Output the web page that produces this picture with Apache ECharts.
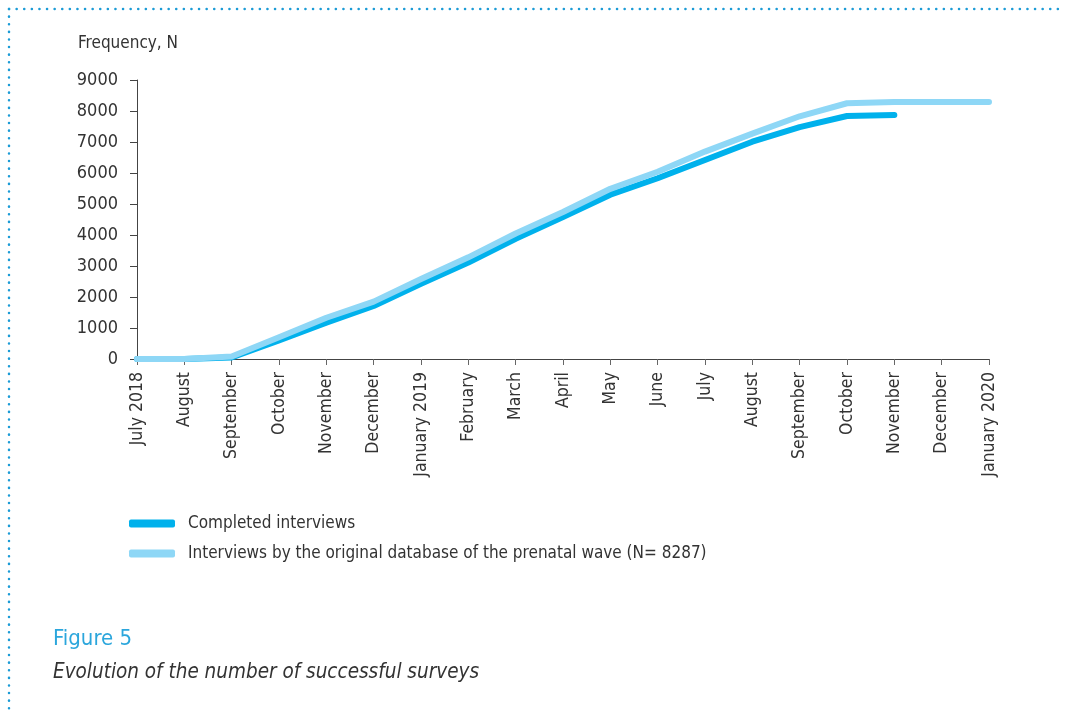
<!DOCTYPE html>
<html>
<head>
<meta charset="utf-8">
<script src="https://cdn.jsdelivr.net/npm/echarts@6/dist/echarts.min.js"></script>
<style>
html,body{margin:0;padding:0;background:#fff;}
#c{width:1065px;height:713px;}
</style>
</head>
<body>
<div id="c"></div>
<script>
const categories = ["July 2018","August","September","October","November","December","January 2019","February","March","April","May","June","July","August","September","October","November","December","January 2020"];
const completed = [0,0,50,600,1170,1710,2430,3110,3880,4580,5300,5830,6420,7010,7480,7840,7870];
const original = [0,0,80,700,1330,1850,2580,3280,4050,4740,5490,6040,6690,7270,7830,8250,8287,8287,8287];
const yTicks = {min:0,max:9000,interval:1000};
const seriesNames = ["Completed interviews","Interviews by the original database of the prenatal wave (N= 8287)"];

const font = "'Liberation Sans Narrow','DejaVu Sans Condensed','Roboto',sans-serif";
const chart = echarts.init(document.getElementById('c'));
chart.setOption({
  animation:false,
  backgroundColor:'#fff',
  grid:{left:137,right:76,top:80,bottom:354,containLabel:false},
  title:[
    {text:'Frequency, N',left:73,top:30,textStyle:{fontFamily:font,fontSize:17,fontWeight:'normal',color:'#333'}},
    {text:'Figure 5',left:48,top:623,textStyle:{fontFamily:font,fontSize:22,fontWeight:'normal',color:'#2ba6dc'}},
    {text:'Evolution of the number of successful surveys',left:48,top:658,textStyle:{fontFamily:font,fontSize:20.5,fontWeight:'normal',fontStyle:'italic',color:'#333'}}
  ],
  legend:{
    orient:'vertical',left:124,top:510,itemWidth:46,itemHeight:8,itemGap:13,icon:'roundRect',
    textStyle:{fontFamily:font,fontSize:17,color:'#333',padding:[0,0,0,8]},
    data:seriesNames
  },
  xAxis:{
    type:'category',data:categories,boundaryGap:false,
    axisLine:{lineStyle:{color:'#444',width:1}},
    axisTick:{show:true,length:6,lineStyle:{color:'#666'},alignWithLabel:true},
    axisLabel:{rotate:90,interval:0,margin:13,fontFamily:font,fontSize:17.5,color:'#333'},
    splitLine:{show:false}
  },
  yAxis:{
    type:'value',min:yTicks.min,max:yTicks.max,interval:yTicks.interval,
    axisLine:{show:true,lineStyle:{color:'#444',width:1}},
    axisTick:{show:true,length:7,lineStyle:{color:'#444'}},
    axisLabel:{margin:19,fontFamily:font,fontSize:18,color:'#333',formatter:v=>String(v)},
    splitLine:{show:false}
  },
  series:[
    {name:seriesNames[0],type:'line',data:completed,symbol:'none',z:2,
     lineStyle:{color:'#00b1ec',width:6,cap:'round',join:'round'},itemStyle:{color:'#00b1ec'}},
    {name:seriesNames[1],type:'line',data:original,symbol:'none',z:3,
     lineStyle:{color:'#8ed7f6',width:6,cap:'round',join:'round'},itemStyle:{color:'#8ed7f6'}}
  ],
  graphic:[
    {type:'line',shape:{x1:9,y1:9,x2:1065,y2:9},style:{stroke:'#1b9bd6',lineWidth:2.5,lineDash:[0.1,7.5],lineCap:'round'}},
    {type:'line',shape:{x1:9,y1:9,x2:9,y2:713},style:{stroke:'#1b9bd6',lineWidth:2.5,lineDash:[0.1,7.5],lineCap:'round'}}
  ]
});
</script>
</body>
</html>
